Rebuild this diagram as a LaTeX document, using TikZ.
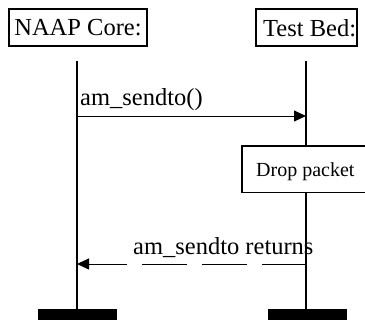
\documentclass[tikz,border=0pt]{standalone}
\usepackage{fontspec}
\setmainfont{Liberation Serif}
\usetikzlibrary{arrows.meta}
\begin{document}
\begin{tikzpicture}[x=1pt,y=-1pt,
  big/.style={font=\fontsize{24.5}{28}\selectfont},
  small/.style={font=\fontsize{20}{24}\selectfont},
  objbox/.style={draw,line width=1.1pt,fill=white,inner sep=0pt},
  life/.style={line width=1.5pt},
  msg/.style={line width=0.9pt,-{Triangle[length=12pt,width=11pt]}},
  ret/.style={msg,dash pattern=on 45pt off 15pt},
  endbar/.style={fill=black,inner sep=0pt,minimum width=79pt,minimum height=14pt}]
\useasboundingbox (0,0) rectangle (365,320);
\clip (0,0) rectangle (365,320);

% object headers
\node[objbox,big,minimum width=138pt,minimum height=37pt] (core) at (78,27.5) {NAAP Core:};
\node[objbox,minimum width=101pt,minimum height=37pt] (bed) at (306.5,27.5) {};
\node[big,anchor=base west,inner sep=0pt] (bedtxt) at (263,37) {Test Bed:};

% lifeline tops and ends
\coordinate (coreTop) at (77,61);
\coordinate (bedTop) at (306,61);
\node[endbar] (coreEnd) at (77.5,316) {};
\node[endbar] (bedEnd) at (307.5,316) {};

% lifelines
\draw[life] (coreTop) -- (coreTop |- coreEnd.north);
\draw[life] (bedTop) -- (bedTop |- bedEnd.north);

% action box on the test bed lifeline, open on the right where it leaves the page
\node[fill=white,inner sep=0pt,anchor=north west,minimum width=160pt,minimum height=46pt] (drop) at (242,146) {};
\draw[line width=1.1pt] (drop.north east) -- (drop.north west) -- (drop.south west) -- (drop.south east);
\node[small,anchor=base west,inner sep=0pt] (droptxt) at (256,177) {Drop packet};

% messages
\coordinate (m1a) at (77,116);
\coordinate (m1b) at (306,116);
\draw[msg] (m1a) -- (m1b);
\node[big,anchor=base west,inner sep=0pt] (m1lbl) at (80,106) {am\_sendto()};

\coordinate (m2a) at (306.5,264);
\coordinate (m2b) at (77,264);
\draw[ret] (m2a) -- (m2b);
\node[big,anchor=base west,inner sep=0pt] (m2lbl) at (133,255) {am\_sendto returns};
\end{tikzpicture}
\end{document}
